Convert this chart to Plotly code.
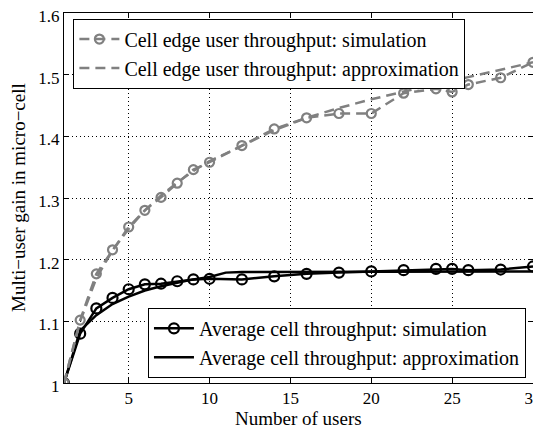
import plotly.graph_objects as go

# ---- data ----
users = [1, 2, 3, 4, 5, 6, 7, 8, 9, 10, 12, 14, 16, 18, 20, 22, 24, 25, 26, 28, 30]
edge_sim = [1.0, 1.102, 1.177, 1.216, 1.253, 1.280, 1.301, 1.324, 1.346, 1.358, 1.385,
            1.412, 1.430, 1.437, 1.437, 1.470, 1.477, 1.472, 1.484, 1.495, 1.520]
approx_users = [1, 2, 3, 4, 5, 6, 7, 8, 9, 10, 11, 12, 14, 16, 18, 20, 22, 24, 26, 28, 30]
edge_approx = [1.0, 1.100, 1.170, 1.215, 1.250, 1.280, 1.304, 1.325, 1.344, 1.360, 1.372, 1.385,
               1.410, 1.430, 1.446, 1.460, 1.473, 1.485, 1.496, 1.508, 1.520]
avg_sim = [1.0, 1.080, 1.121, 1.138, 1.152, 1.160, 1.161, 1.165, 1.168, 1.169, 1.168,
           1.173, 1.177, 1.179, 1.181, 1.183, 1.185, 1.185, 1.183, 1.184, 1.189]
avg_approx = [1.0, 1.085, 1.110, 1.128, 1.140, 1.150, 1.157, 1.163, 1.168, 1.172, 1.179, 1.180,
              1.180, 1.180, 1.181, 1.181, 1.181, 1.181, 1.181, 1.181, 1.181]

x_ticks = [5, 10, 15, 20, 25, 30]
y_ticks = [1.0, 1.1, 1.2, 1.3, 1.4, 1.5, 1.6]
x_title = "Number of users"
y_title = "Multi\u2212user gain in micro\u2212cell"

GRAY = "rgb(128,128,128)"
FONT = "Liberation Serif"

fig = go.Figure()

fig.add_trace(go.Scatter(
    x=users, y=avg_sim, mode="lines+markers", name="Average cell throughput: simulation",
    line=dict(color="black", width=2.5),
    marker=dict(symbol="circle-open", size=10, color="black", line=dict(width=2.2)),
    legend="legend2"))
fig.add_trace(go.Scatter(
    x=approx_users, y=avg_approx, mode="lines", name="Average cell throughput: approximation",
    line=dict(color="black", width=2.5), legend="legend2"))
fig.add_trace(go.Scatter(
    x=users, y=edge_sim, mode="lines+markers", name="Cell edge user throughput: simulation",
    line=dict(color=GRAY, width=2.5, dash="10px,6px"),
    marker=dict(symbol="circle-open", size=9, color=GRAY, line=dict(width=2.2)),
    legend="legend"))
fig.add_trace(go.Scatter(
    x=approx_users, y=edge_approx, mode="lines", name="Cell edge user throughput: approximation",
    line=dict(color=GRAY, width=2.5, dash="10px,6px"), legend="legend"))

axis_common = dict(
    showline=True, linecolor="black", linewidth=1, mirror="ticks",
    ticks="inside", ticklen=5, tickcolor="black", ticklabeloverflow="allow",
    automargin=False,
    showgrid=True, gridcolor="black", gridwidth=1, griddash="1px,3px",
    zeroline=False, tickfont=dict(family=FONT, size=17, color="black"),
)

fig.update_xaxes(range=[1, 30], tickvals=x_ticks, **axis_common)
fig.update_yaxes(range=[1.0, 1.6], tickvals=y_ticks, ticklabelshift=3, **axis_common)

legend_common = dict(bgcolor="white", bordercolor="black", borderwidth=1,
                     font=dict(family=FONT, size=20, color="black"),
                     tracegroupgap=0, itemwidth=40)

fig.add_annotation(text=x_title, xref="paper", yref="paper", x=0.5, y=0,
                   xanchor="center", yanchor="middle", yshift=-35, showarrow=False,
                   font=dict(family=FONT, size=19, color="black"))
fig.add_annotation(text=y_title, xref="paper", yref="paper", x=0, y=0.5,
                   xanchor="center", yanchor="middle", xshift=-46, textangle=-90, showarrow=False,
                   font=dict(family=FONT, size=19, color="black"))

# page body has an 8px margin, so the figure is offset by 8px right/down
fig.update_layout(
    width=533, height=420,
    font=dict(family=FONT, color="black"),
    margin=dict(l=56, r=8, t=5, b=45, autoexpand=False),
    paper_bgcolor="white", plot_bgcolor="white",
    showlegend=True,
    legend=dict(x=0.02, y=0.985, xanchor="left", yanchor="top", **legend_common),
    legend2=dict(x=0.985, y=0.014, xanchor="right", yanchor="bottom", **legend_common),
)

fig.write_html("out.html")
